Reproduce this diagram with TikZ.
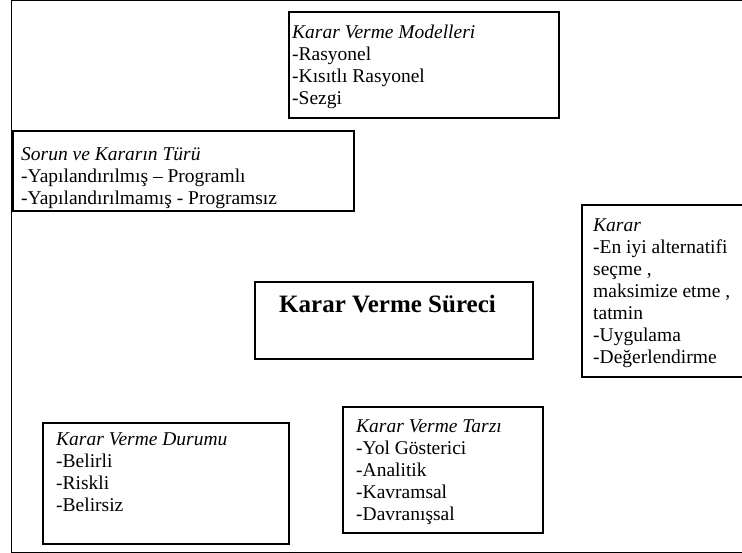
\documentclass[tikz,border=0pt]{standalone}
\usepackage{fontspec}
\setmainfont{Liberation Serif}
\usepackage{tikz}
\tikzset{frame/.style={draw, line width=1.1pt, anchor=north west, inner sep=0pt, outer sep=0pt},
    txt/.style={anchor=north west, inner sep=0pt, align=left, font=\fontsize{19.5}{22}\selectfont}}

\begin{document}
\begin{tikzpicture}[x=1pt, y=-1pt]

                    \useasboundingbox (0,0) rectangle (742,553);
                    \draw[line width=1pt] (11,1) rectangle (750,552);

                    \node[frame, minimum width=270pt, minimum height=106pt] (M) at (289,12) {};
                    \node[frame, minimum width=341pt, minimum height=80pt] (S) at (13,131) {};
                    \node[frame, minimum width=278pt, minimum height=77pt] (P) at (255,282) {};
                    \node[frame, minimum width=175pt, minimum height=172pt] (K) at (582,205) {};
                    \node[frame, minimum width=246pt, minimum height=121pt] (D) at (43,423) {};
                    \node[frame, minimum width=200pt, minimum height=126pt] (T) at (343,407) {};

                    \node[txt] (Mt) at (292,25) {\textit{Karar Verme Modelleri}\\-Rasyonel\\-Kısıtlı Rasyonel\\-Sezgi};
                    \node[txt] (St) at (21,147) {\textit{Sorun ve Kararın Türü}\\-Yapılandırılmış – Programlı\\-Yapılandırılmamış - Programsız};
                    \node[txt, font=\fontsize{25}{28}\selectfont\bfseries] (Pt) at (279,295) {Karar Verme Süreci};
                    \node[txt] (Kt) at (593,219) {\textit{Karar}\\-En iyi alternatifi\\seçme ,\\maksimize etme ,\\tatmin\\-Uygulama\\-Değerlendirme};
                    \node[txt] (Dt) at (56,433) {\textit{Karar Verme Durumu}\\-Belirli\\-Riskli\\-Belirsiz};
                    \node[txt] (Tt) at (356,420) {\textit{Karar Verme Tarzı}\\-Yol Gösterici\\-Analitik\\-Kavramsal\\-Davranışsal};

                \end{tikzpicture}
\end{document}
